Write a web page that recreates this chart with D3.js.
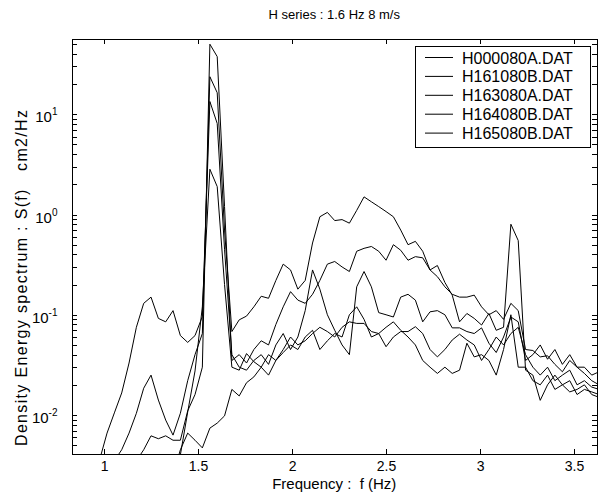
<!DOCTYPE html>
<html>
<head>
<meta charset="utf-8">
<script src="https://cdn.jsdelivr.net/npm/d3@7"></script>
<style>
  body { margin: 0; background: #fff; }
  svg text { font-family: "Liberation Sans", Arial, Helvetica, sans-serif; fill: #000; white-space: pre; }
</style>
</head>
<body>
<svg id="chart" width="606" height="501"></svg>
<script>
// Frequency bins (Hz)
const freqs = [
  0.820, 0.859, 0.898, 0.938, 0.977, 1.016, 1.055, 1.094, 1.133, 1.172,
  1.211, 1.250, 1.289, 1.328, 1.367, 1.406, 1.445, 1.484, 1.523, 1.563,
  1.602, 1.641, 1.680, 1.719, 1.758, 1.797, 1.836, 1.875, 1.914, 1.953,
  1.992, 2.031, 2.070, 2.109, 2.148, 2.188, 2.227, 2.266, 2.305, 2.344,
  2.383, 2.422, 2.461, 2.500, 2.539, 2.578, 2.617, 2.656, 2.695, 2.734,
  2.773, 2.813, 2.852, 2.891, 2.930, 2.969, 3.008, 3.047, 3.086, 3.125,
  3.164, 3.203, 3.242, 3.281, 3.320, 3.359, 3.398, 3.438, 3.477, 3.516,
  3.555, 3.594, 3.633
];

// Spectral density S(f), cm2/Hz, one array per record
const H000080A = [
  0.0015, 0.0018, 0.0022, 0.0028, 0.0036, 0.0066, 0.0105, 0.0166, 0.033, 0.075,
  0.13, 0.15, 0.092, 0.085, 0.11, 0.062, 0.053, 0.062, 0.096, 13.4,
  8.1, 0.45, 0.04, 0.03, 0.028, 0.035, 0.04, 0.032, 0.05, 0.065,
  0.045, 0.06, 0.11, 0.28, 0.18, 0.1, 0.07, 0.05, 0.04, 0.19,
  0.27, 0.19, 0.105, 0.1, 0.095, 0.15, 0.16, 0.14, 0.085, 0.107,
  0.11, 0.1, 0.074, 0.074, 0.068, 0.065, 0.074, 0.052, 0.042, 0.06,
  0.095, 0.085, 0.035, 0.04, 0.05, 0.036, 0.045, 0.032, 0.04, 0.03,
  0.026, 0.022, 0.02
];
const H161080B = [
  0.0015, 0.0015, 0.0016, 0.0018, 0.002, 0.0025, 0.0035, 0.0045, 0.0066, 0.0104,
  0.0185, 0.025, 0.0141, 0.0089, 0.0063, 0.0104, 0.022, 0.04, 0.065, 23.7,
  16.4, 0.7, 0.068, 0.089, 0.097, 0.12, 0.153, 0.146, 0.22, 0.32,
  0.28, 0.18, 0.22, 0.52, 0.95, 1.05, 0.87, 0.89, 0.82, 1.1,
  1.5, 1.34, 1.2, 1.07, 0.95, 0.7, 0.5, 0.54, 0.43, 0.28,
  0.24, 0.19, 0.16, 0.15, 0.15, 0.157, 0.12, 0.1, 0.11, 0.09,
  0.13, 0.11, 0.045, 0.044, 0.038, 0.039, 0.032, 0.027, 0.035, 0.03,
  0.03, 0.025, 0.027
];
const H163080A = [
  0.0015, 0.0015, 0.0015, 0.0015, 0.0015, 0.0018, 0.0022, 0.0026, 0.003, 0.0035,
  0.0045, 0.0062, 0.0058, 0.0062, 0.0056, 0.0056, 0.011, 0.016, 0.03, 50,
  37.6, 1.2, 0.035, 0.04, 0.033, 0.045, 0.055, 0.05, 0.08, 0.12,
  0.17, 0.14, 0.13, 0.16, 0.22, 0.32, 0.34, 0.3, 0.27, 0.43,
  0.46, 0.48, 0.43, 0.35, 0.5, 0.44, 0.35, 0.38, 0.37, 0.28,
  0.31, 0.21, 0.157, 0.085, 0.103, 0.092, 0.079, 0.103, 0.07, 0.075,
  0.8, 0.55, 0.028, 0.025, 0.014, 0.02, 0.025, 0.02, 0.017, 0.018,
  0.02, 0.016, 0.015
];
const H164080B = [
  0.0015, 0.0015, 0.0015, 0.0015, 0.0015, 0.0015, 0.0015, 0.0015, 0.0015, 0.0015,
  0.0015, 0.0016, 0.0018, 0.002, 0.0025, 0.004, 0.0107, 0.0275, 0.12, 2.83,
  1.9, 0.2, 0.03, 0.028, 0.041, 0.034, 0.03, 0.025, 0.035, 0.045,
  0.06, 0.05, 0.055, 0.065, 0.075, 0.068, 0.06, 0.075, 0.085, 0.082,
  0.082, 0.068, 0.065, 0.048, 0.06, 0.068, 0.068, 0.076, 0.065, 0.045,
  0.038, 0.045, 0.056, 0.064, 0.056, 0.05, 0.035, 0.045, 0.06, 0.05,
  0.065, 0.075, 0.04, 0.03, 0.025, 0.03, 0.022, 0.025, 0.028, 0.02,
  0.022, 0.019, 0.018
];
const H165080B = [
  0.0015, 0.0015, 0.0015, 0.0015, 0.0015, 0.0015, 0.0015, 0.0015, 0.0015, 0.0015,
  0.0015, 0.0015, 0.0016, 0.0018, 0.0025, 0.0045, 0.0066, 0.0056, 0.0047, 0.0074,
  0.0083, 0.0098, 0.018, 0.0155, 0.021, 0.024, 0.03, 0.04, 0.035, 0.042,
  0.05, 0.045, 0.06, 0.07, 0.045, 0.055, 0.065, 0.06, 0.1, 0.12,
  0.09, 0.06, 0.065, 0.075, 0.085, 0.07, 0.06, 0.05, 0.035, 0.03,
  0.026, 0.03, 0.026, 0.028, 0.052, 0.038, 0.04, 0.035, 0.025, 0.045,
  0.1, 0.03, 0.03, 0.022, 0.02, 0.025, 0.018, 0.02, 0.022, 0.016,
  0.018, 0.017, 0.016
];

const seriesNames = ["H000080A.DAT", "H161080B.DAT", "H163080A.DAT", "H164080B.DAT", "H165080B.DAT"];
const seriesValues = [H000080A, H161080B, H163080A, H164080B, H165080B];

const xTicks = [1, 1.5, 2, 2.5, 3, 3.5];
const xTickLabels = ["1", "1.5", "2", "2.5", "3", "3.5"];
const yMajorTicks = [0.01, 0.1, 1, 10];
const yMajorExponents = ["-2", "-1", "0", "1"];

const titleText = "H series : 1.6 Hz 8 m/s";
const xLabelText = "Frequency :  f (Hz)";
const yLabelText = "Density Energy spectrum : S(f)   cm2/Hz";

// Layout
const plot = { left: 71.5, right: 597, top: 39, bottom: 454 };

const svg = d3.select("#chart");

const x = d3.scaleLinear().domain([0.827, 3.622]).range([plot.left, plot.right]);
const y = d3.scaleLog().domain([Math.pow(10, -2.389), Math.pow(10, 1.751)]).range([plot.bottom, plot.top]);

// minor log ticks 2..9 in each decade inside the domain
const yMinorTicks = [];
[0.001, 0.01, 0.1, 1, 10].forEach(d => {
  for (let m = 2; m <= 9; m++) {
    const v = d * m;
    if (v >= y.domain()[0] && v <= y.domain()[1]) yMinorTicks.push(v);
  }
});
const yAllTicks = yMajorTicks.concat(yMinorTicks);

// clip region for data lines
svg.append("defs").append("clipPath").attr("id", "plotClip")
  .append("rect")
  .attr("x", plot.left).attr("y", plot.top)
  .attr("width", plot.right - plot.left).attr("height", plot.bottom - plot.top);

// spectra
const line = d3.line()
  .x((d, i) => x(freqs[i]))
  .y(d => y(d));

svg.append("g").attr("clip-path", "url(#plotClip)")
  .selectAll("path")
  .data(seriesValues)
  .join("path")
  .attr("d", d => line(d))
  .attr("fill", "none")
  .attr("stroke", "#000")
  .attr("stroke-width", 1)
  .attr("stroke-linejoin", "miter");

// axes (ticks point inward, mirrored on all four sides)
const tick = 5;
function styleAxis(g) {
  g.selectAll("path.domain").attr("stroke", "#000").attr("stroke-width", 1);
  g.selectAll(".tick line").attr("stroke", "#000").attr("stroke-width", 1);
  g.attr("shape-rendering", "crispEdges");
}

const gBottom = svg.append("g")
  .attr("transform", `translate(0,${plot.bottom})`)
  .call(d3.axisBottom(x).tickValues(xTicks).tickSizeInner(-tick).tickSizeOuter(0)
    .tickPadding(7).tickFormat((d, i) => xTickLabels[i]))
  .call(styleAxis);
gBottom.selectAll("text").attr("font-size", 14).attr("font-family", null);

svg.append("g")
  .attr("transform", `translate(0,${plot.top})`)
  .call(d3.axisTop(x).tickValues(xTicks).tickSizeInner(-tick).tickSizeOuter(0).tickFormat(""))
  .call(styleAxis);

svg.append("g")
  .attr("transform", `translate(${plot.left},0)`)
  .call(d3.axisLeft(y).tickValues(yAllTicks).tickSizeInner(-tick).tickSizeOuter(0).tickFormat(""))
  .call(styleAxis);

svg.append("g")
  .attr("transform", `translate(${plot.right},0)`)
  .call(d3.axisRight(y).tickValues(yAllTicks).tickSizeInner(-tick).tickSizeOuter(0).tickFormat(""))
  .call(styleAxis);

// decade labels 10^n
const yLab = svg.append("g").attr("font-size", 15).attr("text-anchor", "end");
yMajorTicks.forEach((v, i) => {
  const t = yLab.append("text")
    .attr("x", plot.left - 14)
    .attr("y", y(v) + 8);
  t.append("tspan").text("10");
  t.append("tspan").attr("font-size", 10).attr("dy", -7).text(yMajorExponents[i]);
});

// titles
svg.append("text")
  .attr("x", (plot.left + plot.right) / 2).attr("y", 19)
  .attr("text-anchor", "middle").attr("font-size", 13)
  .text(titleText);

svg.append("text")
  .attr("x", (plot.left + plot.right) / 2).attr("y", 489)
  .attr("text-anchor", "middle").attr("font-size", 15)
  .text(xLabelText);

svg.append("text")
  .attr("transform", "translate(27,278) rotate(-90)")
  .attr("text-anchor", "middle").attr("font-size", 16)
  .attr("textLength", 336).attr("lengthAdjust", "spacing")
  .text(yLabelText);

// legend
const legend = { x: 415, y: 46, w: 175, h: 101, row: 18.9, first: 11.5 };
const gLeg = svg.append("g");
gLeg.append("rect")
  .attr("x", legend.x).attr("y", legend.y)
  .attr("width", legend.w).attr("height", legend.h)
  .attr("fill", "#fff").attr("stroke", "#000").attr("stroke-width", 1)
  .attr("shape-rendering", "crispEdges");
seriesNames.forEach((name, i) => {
  const cy = legend.y + legend.first + i * legend.row;
  gLeg.append("line")
    .attr("x1", legend.x + 10).attr("x2", legend.x + 38)
    .attr("y1", cy).attr("y2", cy)
    .attr("stroke", "#000").attr("stroke-width", 1);
  gLeg.append("text")
    .attr("x", legend.x + 47).attr("y", cy + 6)
    .attr("font-size", 16)
    .text(name);
});
</script>
</body>
</html>
